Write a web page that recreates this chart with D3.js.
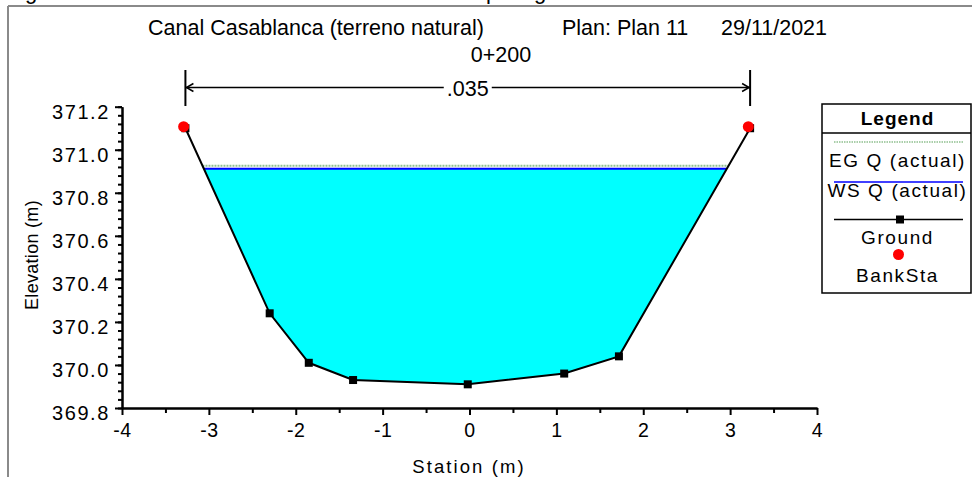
<!DOCTYPE html>
<html>
<head>
<meta charset="utf-8">
<script src="https://cdn.jsdelivr.net/npm/d3@7/dist/d3.min.js"></script>
<style>
  html, body { margin: 0; padding: 0; background: #fff; }
  svg { display: block; font-family: "Liberation Sans", Arial, sans-serif; }
</style>
</head>
<body>
<svg id="chart" width="972" height="477"></svg>
<script>
// Cross section 0+200 – ground survey points (station m, elevation m)
const stations   = [-3.27, -2.30, -1.85, -1.34, -0.02, 1.09, 1.72, 3.23];
const elevations = [371.10, 370.24, 370.01, 369.93, 369.91, 369.96, 370.04, 371.10];
const bankStations = [-3.27, 3.23];
const bankElevations = [371.10, 371.10];
const wsElevation = 370.912;   // WS Q (actual)
const egElevation = 370.926;   // EG Q (actual)
const manningN = ".035";
const xTickValues = [-4, -3, -2, -1, 0, 1, 2, 3, 4];
const yTickValues = [369.8, 370.0, 370.2, 370.4, 370.6, 370.8, 371.0, 371.2];
const titleParts = ["Canal Casablanca (terreno natural)", "Plan: Plan 11", "29/11/2021"];
const stationLabel = "0+200";
const legendLabels = ["EG Q (actual)", "WS Q (actual)", "Ground", "BankSta"];

const svg = d3.select("#chart");

const x = d3.scaleLinear().domain([-4, 4]).range([122, 817]);
const y = d3.scaleLinear().domain([369.8, 371.2]).range([408, 106.7]);

const ground = stations.map((s, i) => ({ s, z: elevations[i] }));

// outer page frame (gray) and caption remnants above it
svg.append("line").attr("x1", 8).attr("x2", 972).attr("y1", 6).attr("y2", 6)
  .attr("stroke", "#8a8a8a").attr("stroke-width", 2);
svg.append("line").attr("x1", 8).attr("x2", 8).attr("y1", 6).attr("y2", 477)
  .attr("stroke", "#8a8a8a").attr("stroke-width", 2);
[["g", 25], ["p", 486], ["g", 534]].forEach(([t, px]) => {
  svg.append("text").attr("x", px).attr("y", -1).attr("font-size", 22).text(t);
});

// title lines
const title = svg.append("g").attr("font-size", 21.5).attr("fill", "#000");
title.append("text").attr("x", 148).attr("y", 35).text(titleParts[0]);
title.append("text").attr("x", 562).attr("y", 35).text(titleParts[1]);
title.append("text").attr("x", 721).attr("y", 35).text(titleParts[2]);
title.append("text").attr("x", 501).attr("y", 62).attr("text-anchor", "middle").text(stationLabel);

// intersection of the ground line with a horizontal level
function crossings(level) {
  const pts = [];
  for (let i = 0; i < ground.length - 1; i++) {
    const a = ground[i], b = ground[i + 1];
    if ((a.z - level) * (b.z - level) < 0) {
      const t = (level - a.z) / (b.z - a.z);
      pts.push({ s: a.s + t * (b.s - a.s), z: level, i });
    }
  }
  return pts;
}

// water area
const ws = crossings(wsElevation);
const wl = ws[0], wr = ws[ws.length - 1];
const poly = [wl].concat(ground.slice(wl.i + 1, wr.i + 1)).concat([wr]);
svg.append("path")
  .attr("d", d3.line().x(d => x(d.s)).y(d => y(d.z))(poly) + "Z")
  .attr("fill", "#00ffff");

// EG line
const eg = crossings(egElevation);
svg.append("line")
  .attr("x1", x(eg[0].s)).attr("x2", x(eg[eg.length - 1].s))
  .attr("y1", y(egElevation)).attr("y2", y(egElevation))
  .attr("stroke", "#8fc08f").attr("stroke-width", 2).attr("stroke-dasharray", "2,1");

// WS line
svg.append("line")
  .attr("x1", x(wl.s)).attr("x2", x(wr.s))
  .attr("y1", y(wsElevation)).attr("y2", y(wsElevation))
  .attr("stroke", "#0000ff").attr("stroke-width", 2);

// ground line and markers
svg.append("path")
  .attr("d", d3.line().x(d => x(d.s)).y(d => y(d.z))(ground))
  .attr("fill", "none").attr("stroke", "#000").attr("stroke-width", 2);
svg.selectAll("rect.gp").data(ground).enter().append("rect")
  .attr("class", "gp")
  .attr("x", d => x(d.s) - 4).attr("y", d => y(d.z) - 4)
  .attr("width", 8).attr("height", 8).attr("fill", "#000");

// bank stations
svg.selectAll("circle.bank").data(bankStations).enter().append("circle")
  .attr("class", "bank")
  .attr("cx", (d) => x(d) - 1.8).attr("cy", (d, i) => y(bankElevations[i]) - 1.5)
  .attr("r", 5.5).attr("fill", "#ff0000");

// Manning's n dimension line between bank stations
const dimY = 87.5;
const xl = x(bankStations[0]), xr = x(bankStations[1]);
const dim = svg.append("g").attr("stroke", "#000").attr("fill", "none");
dim.append("line").attr("x1", xl).attr("x2", xl).attr("y1", 70).attr("y2", 106).attr("stroke-width", 2);
dim.append("line").attr("x1", xr).attr("x2", xr).attr("y1", 70).attr("y2", 106).attr("stroke-width", 2);
const nMid = (xl + xr) / 2;
dim.append("line").attr("x1", xl).attr("x2", nMid - 24).attr("y1", dimY).attr("y2", dimY).attr("stroke-width", 1.5);
dim.append("line").attr("x1", nMid + 24).attr("x2", xr).attr("y1", dimY).attr("y2", dimY).attr("stroke-width", 1.5);
dim.append("path").attr("d", `M${xl + 8},${dimY - 4}L${xl + 1},${dimY}L${xl + 8},${dimY + 4}`).attr("stroke-width", 1.5);
dim.append("path").attr("d", `M${xr - 8},${dimY - 4}L${xr - 1},${dimY}L${xr - 8},${dimY + 4}`).attr("stroke-width", 1.5);
svg.append("text").attr("x", nMid).attr("y", dimY + 8).attr("text-anchor", "middle")
  .attr("font-size", 21.5).text(manningN);

// axes
const yAxis = svg.append("g").attr("transform", "translate(122,0)")
  .call(d3.axisLeft(y).tickValues(yTickValues).tickFormat(d3.format(".1f"))
    .tickSize(7).tickPadding(5).tickSizeOuter(0));
svg.append("g").attr("transform", "translate(122,0)")
  .call(d3.axisLeft(y).tickValues(d3.range(0, 36).map(i => 369.8 + i * 0.04)).tickFormat("")
    .tickSize(4).tickSizeOuter(0));
const xAxis = svg.append("g").attr("transform", "translate(0,408)")
  .call(d3.axisBottom(x).tickValues(xTickValues).tickFormat(d3.format("d"))
    .tickSize(7).tickPadding(8).tickSizeOuter(0));
svg.append("g").attr("transform", "translate(0,408)")
  .call(d3.axisBottom(x).tickValues(d3.range(-3.5, 4, 1)).tickFormat("")
    .tickSize(5).tickSizeOuter(0));
svg.selectAll(".domain, .tick line").attr("stroke", "#000").attr("stroke-width", 2);
yAxis.selectAll("text").attr("font-size", 20).attr("letter-spacing", 1.6)
  .attr("font-family", "Liberation Sans, Arial, sans-serif").attr("dy", "0.58em").attr("fill", "#000");
xAxis.selectAll("text").attr("font-size", 19.5).attr("letter-spacing", 0.5)
  .attr("font-family", "Liberation Sans, Arial, sans-serif").attr("fill", "#000")
  .text(d => d3.format("d")(d).replace("−", "-"));

svg.append("text").attr("transform", "translate(38,255) rotate(-90)")
  .attr("text-anchor", "middle").attr("font-size", 18).attr("letter-spacing", 0.3).text("Elevation (m)");
svg.append("text").attr("x", 469).attr("y", 473)
  .attr("text-anchor", "middle").attr("font-size", 18.5).attr("letter-spacing", 2.1).text("Station (m)");

// legend
const lg = svg.append("g");
const lx = 822, lw = 149, lcx = lx + lw / 2;
lg.append("rect").attr("x", lx).attr("y", 104).attr("width", lw).attr("height", 189)
  .attr("fill", "#fff").attr("stroke", "#000").attr("stroke-width", 1.5);
lg.append("line").attr("x1", lx).attr("x2", lx + lw).attr("y1", 133).attr("y2", 133)
  .attr("stroke", "#000").attr("stroke-width", 1.5);
lg.append("text").attr("x", lcx + 1).attr("y", 125).attr("text-anchor", "middle")
  .attr("font-size", 19).attr("font-weight", "bold").attr("letter-spacing", 1).text("Legend");
lg.append("line").attr("x1", 834).attr("x2", 963).attr("y1", 142).attr("y2", 142)
  .attr("stroke", "#8fc08f").attr("stroke-width", 1.5).attr("stroke-dasharray", "1.5,1");
lg.append("line").attr("x1", 834).attr("x2", 963).attr("y1", 182).attr("y2", 182)
  .attr("stroke", "#0000ff").attr("stroke-width", 1.5);
lg.append("line").attr("x1", 834).attr("x2", 963).attr("y1", 219.5).attr("y2", 219.5)
  .attr("stroke", "#000").attr("stroke-width", 1.5);
lg.append("rect").attr("x", 900 - 4).attr("y", 219.5 - 4).attr("width", 8).attr("height", 8).attr("fill", "#000");
lg.append("circle").attr("cx", 898.5).attr("cy", 254.5).attr("r", 5.5).attr("fill", "#ff0000");
const lys = [167, 197, 243.5, 282];
legendLabels.forEach((t, i) => {
  lg.append("text").attr("x", lcx + 1).attr("y", lys[i]).attr("text-anchor", "middle")
    .attr("font-size", 19).attr("letter-spacing", 1.6).text(t);
});
</script>
</body>
</html>
